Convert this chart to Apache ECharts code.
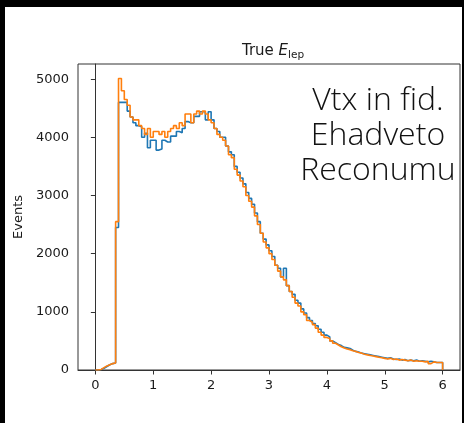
<!DOCTYPE html>
<html>
<head>
<meta charset="utf-8">
<script src="https://cdn.jsdelivr.net/npm/echarts@6/dist/echarts.min.js"></script>
<style>
  html, body { margin: 0; padding: 0; background: #000; }
  #chart { width: 464px; height: 423px; }
</style>
</head>
<body>
<div id="chart"></div>
<script>
// histogram: 120 bins of width 0.05 from 0 to 6
const binWidth = 0.05;
const xTicks = [0, 1, 2, 3, 4, 5, 6];
const yTicks = [0, 1000, 2000, 3000, 4000, 5000];
const noteLines = ['Vtx in fid.', 'Ehadveto', 'Reconumu'];

const blueCounts = [
  0, 10, 30, 60, 90, 110, 120, 2450, 4600, 4600,
  4600, 4450, 4350, 4250, 4200, 4180, 4000, 4070, 3820, 3950,
  3950, 3780, 3800, 3950, 3920, 3920, 4020, 4020, 4100, 4080,
  4150, 4270, 4250, 4250, 4360, 4360, 4440, 4440, 4300, 4440,
  4300, 4150, 4100, 4000, 4000, 3850, 3750, 3700, 3500, 3400,
  3300, 3200, 3050, 2950, 2850, 2700, 2550, 2350, 2250, 2150,
  2050, 1950, 1800, 1750, 1600, 1750, 1450, 1350, 1300, 1200,
  1150, 1050, 980, 900, 850, 800, 760, 700, 650, 600,
  570, 500, 470, 440, 420, 390, 380, 370, 340, 320,
  310, 290, 280, 270, 260, 250, 240, 230, 220, 210,
  200, 210, 190, 180, 190, 170, 180, 160, 170, 160,
  170, 150, 160, 150, 140, 150, 140, 130, 130, 130
];

const orangeCounts = [
  0, 10, 40, 70, 90, 110, 120, 2550, 5010, 4800,
  4650, 4550, 4350, 4300, 4300, 4200, 4150, 4050, 4150, 4000,
  4100, 4100, 4050, 4100, 4000, 4100, 4150, 4200, 4150, 4250,
  4200, 4400, 4400, 4250, 4400, 4450, 4400, 4450, 4400, 4300,
  4250, 4150, 4050, 4000, 3950, 3850, 3700, 3650, 3450, 3350,
  3250, 3150, 3000, 2900, 2800, 2650, 2500, 2350, 2200, 2100,
  2000, 1900, 1800, 1700, 1600, 1550, 1450, 1350, 1250, 1150,
  1100, 1000, 950, 850, 820, 780, 720, 650, 600, 560,
  540, 500, 460, 430, 400, 380, 360, 350, 330, 320,
  300, 290, 270, 260, 250, 240, 230, 220, 210, 200,
  190, 200, 180, 190, 170, 180, 170, 160, 170, 150,
  160, 150, 150, 140, 150, 110, 140, 130, 130, 130
];

// step outline like matplotlib histtype='step'
function stepData(counts) {
  const pts = counts.map((c, i) => [+(i * binWidth).toFixed(2), c]);
  const end = +(counts.length * binWidth).toFixed(2);
  pts.push([end, counts[counts.length - 1]]);
  pts.push([end, 0]);
  return pts;
}

const chart = echarts.init(document.getElementById('chart'));
const textColor = '#1a1a1a';

const option = {
  backgroundColor: '#000',
  animation: false,
  title: {
    text: '{a|True }{e|E}{s|lep}',
    left: 268,
    textAlign: 'center',
    top: 37,
    textStyle: {
      fontWeight: 'normal',
      rich: {
        a: { fontFamily: 'DejaVu Sans', fontSize: 15, color: textColor, lineHeight: 18 },
        e: { fontFamily: 'DejaVu Sans', fontSize: 15, fontStyle: 'italic', color: textColor, lineHeight: 18 },
        s: { fontFamily: 'DejaVu Sans', fontSize: 10.5, color: textColor, lineHeight: 18, padding: [8, 0, 0, 0] }
      }
    }
  },
  graphic: [
    {
      type: 'rect', z: -10, silent: true,
      shape: { x: 5, y: 7, width: 457, height: 416 },
      style: { fill: '#fff' }
    },
    {
      type: 'text', x: 378, y: 83, z: 100,
      style: {
        text: noteLines.join('\n'),
        fontFamily: 'Open Sans',
        fontWeight: 300,
        fontSize: 32,
        lineHeight: 35,
        align: 'center',
        fill: '#111'
      }
    }
  ],
  grid: {
    left: 78, top: 64, width: 382, height: 306,
    show: true, borderColor: '#333', borderWidth: 1
  },
  xAxis: {
    type: 'value',
    min: -0.3, max: 6.3,
    axisLine: { show: true, onZero: false, lineStyle: { color: '#333', width: 1 } },
    axisTick: { show: true, length: 4.5, customValues: xTicks, lineStyle: { color: '#333' } },
    axisLabel: { customValues: xTicks, color: textColor, fontFamily: 'DejaVu Sans', fontSize: 13, margin: 9 },
    splitLine: { show: false }
  },
  yAxis: {
    type: 'value',
    min: 0, max: 5260,
    name: 'Events',
    nameLocation: 'middle',
    nameGap: 52,
    nameTextStyle: { color: textColor, fontFamily: 'DejaVu Sans', fontSize: 13 },
    axisLine: { show: true, lineStyle: { color: '#333', width: 1 } },
    axisTick: { show: true, length: 4.5, customValues: yTicks, lineStyle: { color: '#333' } },
    axisLabel: {
      customValues: yTicks, color: textColor, fontFamily: 'DejaVu Sans', fontSize: 13, margin: 9,
      formatter: v => String(v)
    },
    splitLine: { show: false }
  },
  series: [
    {
      type: 'line', step: 'end', showSymbol: false,
      data: stepData(blueCounts),
      lineStyle: { color: '#1f77b4', width: 1.6 },
      itemStyle: { color: '#1f77b4' }
    },
    {
      type: 'line', step: 'end', showSymbol: false,
      data: stepData(orangeCounts),
      lineStyle: { color: '#ff7f0e', width: 1.6 },
      itemStyle: { color: '#ff7f0e' }
    }
  ]
};

chart.setOption(option);
</script>
</body>
</html>
